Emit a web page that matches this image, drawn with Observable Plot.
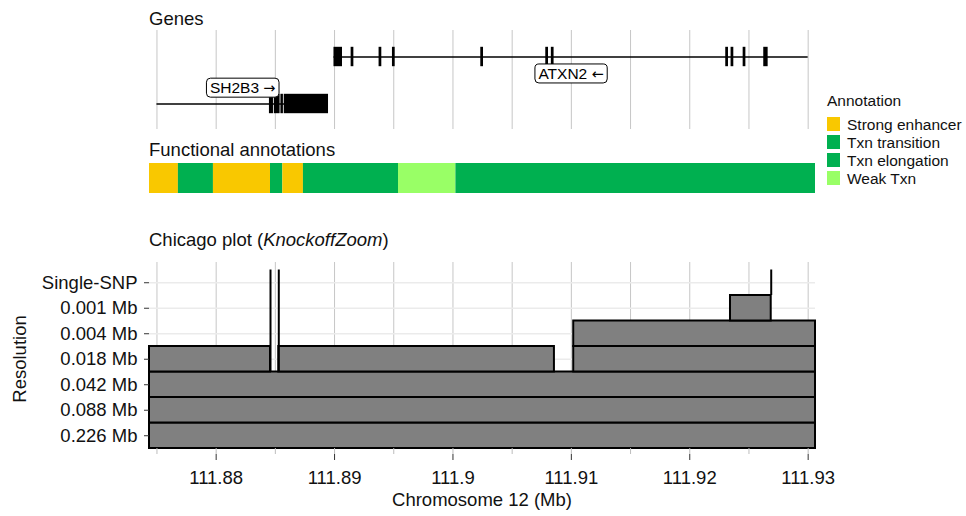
<!DOCTYPE html>
<html><head><meta charset="utf-8">
<script src="https://cdn.jsdelivr.net/npm/d3@7"></script>
<script src="https://cdn.jsdelivr.net/npm/@observablehq/plot@0.6"></script>
<style>
body{margin:0;background:#fff;}
#chart{position:relative;width:966px;height:516px;font-family:"Liberation Sans",Arial,Helvetica,sans-serif;color:#111;overflow:hidden;background:#fff}
.abs{position:absolute;white-space:nowrap;line-height:18px}
.t18{font-size:18.5px}
.t15{font-size:15.5px}
.panel{position:absolute;left:0}
</style></head><body><div id="chart"></div>
<script>
// ---------- data ----------
const xDomain = [111.87437, 111.93062];
const gridTicks = [111.875, 111.88, 111.885, 111.89, 111.895, 111.9, 111.905, 111.91, 111.915, 111.92, 111.925, 111.93];
const majorTicks = [111.88, 111.89, 111.9, 111.91, 111.92, 111.93];
const majorTickLabels = ["111.88", "111.89", "111.9", "111.91", "111.92", "111.93"];

// genes (visible window)
const geneNames = ["ATXN2", "SH2B3"];
const geneStart = [111.88995, 111.875];
const geneEnd = [111.93, 111.88949];
const geneArrow = ["←", "→"];

// exons
const exonGene = ["SH2B3","SH2B3","SH2B3","SH2B3",
  "ATXN2","ATXN2","ATXN2","ATXN2","ATXN2","ATXN2","ATXN2","ATXN2","ATXN2","ATXN2","ATXN2"];
const exonStart = [111.88450, 111.88491, 111.88547, 111.88575,
  111.88995, 111.89140, 111.89376, 111.89489, 111.90235, 111.90784, 111.90831, 111.92304, 111.92349, 111.92451, 111.92625];
const exonEnd = [111.88484, 111.88540, 111.88568, 111.88949,
  111.89067, 111.89163, 111.89399, 111.89512, 111.90258, 111.90807, 111.90854, 111.92327, 111.92372, 111.92474, 111.92662];

// functional annotations
const annotTypes = ["Strong enhancer", "Txn transition", "Txn elongation", "Weak Txn"];
const annotColors = ["#f9c800", "#00b050", "#00b050", "#99ff66"];
const segStart = [111.87437, 111.87681, 111.87977, 111.88459, 111.88563, 111.88737, 111.89540, 111.90025];
const segEnd   = [111.87681, 111.87977, 111.88459, 111.88563, 111.88737, 111.89540, 111.90025, 111.93062];
const segType  = ["Strong enhancer", "Txn transition", "Strong enhancer", "Txn transition", "Strong enhancer", "Txn elongation", "Weak Txn", "Txn elongation"];

// Chicago plot
const resolutions = ["0.226 Mb", "0.088 Mb", "0.042 Mb", "0.018 Mb", "0.004 Mb", "0.001 Mb", "Single-SNP"];
const groupRes   = ["0.226 Mb", "0.088 Mb", "0.042 Mb", "0.018 Mb", "0.018 Mb", "0.018 Mb", "0.004 Mb", "0.001 Mb"];
const groupStart = [111.87437, 111.87437, 111.87437, 111.87437, 111.88529, 111.91020, 111.91020, 111.92344];
const groupEnd   = [111.93062, 111.93062, 111.93062, 111.88459, 111.90857, 111.93062, 111.93062, 111.92688];
const snpPos = [111.88459, 111.88529, 111.92688];
const snpLowest = ["0.018 Mb", "0.018 Mb", "Single-SNP"];

// ---------- build ----------
const FONT = '"Liberation Sans", Arial, Helvetica, sans-serif';
const chart = document.getElementById("chart");
const W = 966, ML = 149, MR = 151;

function addDiv(html, cls, style) {
  const d = document.createElement("div");
  d.className = "abs " + cls;
  d.innerHTML = html;
  Object.assign(d.style, style);
  chart.appendChild(d);
  return d;
}

const genes = geneNames.map((n, i) => ({name: n, start: geneStart[i], end: geneEnd[i], arrow: geneArrow[i]}));
const exons = exonGene.map((g, i) => ({gene: g, start: exonStart[i], end: exonEnd[i]}));
const segs = segType.map((t, i) => ({type: t, start: segStart[i], end: segEnd[i]}));
const groups = groupRes.map((r, i) => ({res: r, start: groupStart[i], end: groupEnd[i]}));
const snps = snpPos.map((p, i) => ({pos: p, lowest: snpLowest[i]}));
const ri = r => resolutions.indexOf(r);
const mid = d => (d.start + d.end) / 2;

// Genes panel
const genesSvg = Plot.plot({
  width: W, height: 99, marginLeft: ML, marginRight: MR, marginTop: 0, marginBottom: 0,
  style: {background: "transparent", fontFamily: FONT, fontSize: "15.5px", color: "#111", overflow: "visible"},
  x: {domain: xDomain, axis: null},
  y: {type: "band", domain: geneNames, paddingInner: 0, paddingOuter: 0.05, axis: null},
  marks: [
    Plot.ruleX(gridTicks, {stroke: "#c6c6c6", strokeWidth: 1}),
    Plot.ruleY(genes, {y: "name", x1: "start", x2: "end", stroke: "#000", strokeWidth: 1.3}),
    Plot.barX(exons, {y: "gene", x1: "start", x2: "end", fill: "#000", insetTop: 13.8, insetBottom: 13.8}),
    Plot.text(genes.filter(d => d.name === "ATXN2"), {x: mid, y: "name", text: "name", dy: 16.8, fill: "#000", fontSize: 15.5}),
    Plot.text(genes.filter(d => d.name === "SH2B3"), {x: mid, y: "name", text: "name", dy: -16, fill: "#000", fontSize: 15.5})
  ]
});
genesSvg.classList.add("panel");
genesSvg.style.top = "30px";
chart.appendChild(genesSvg);
// label arrows + boxes
d3.select(genesSvg).selectAll('g[aria-label="text"] text').each(function () {
  const name = this.textContent;
  const g = genes.find(d => d.name === name);
  this.textContent = name + " ";
  const ts = document.createElementNS("http://www.w3.org/2000/svg", "tspan");
  ts.setAttribute("font-family", '"DejaVu Sans", sans-serif');
  ts.setAttribute("font-size", "14.5");
  ts.textContent = g ? g.arrow : "";
  this.appendChild(ts);
  const bb = this.getBBox();
  const r = document.createElementNS("http://www.w3.org/2000/svg", "rect");
  r.setAttribute("x", bb.x - 3.5);
  r.setAttribute("y", bb.y - 0.8);
  r.setAttribute("width", bb.width + 7);
  r.setAttribute("height", bb.height + 2);
  r.setAttribute("rx", 4);
  r.setAttribute("fill", "#fff");
  r.setAttribute("stroke", "#000");
  r.setAttribute("stroke-width", 1);
  const tr = this.getAttribute("transform");
  if (tr) r.setAttribute("transform", tr);
  this.parentNode.insertBefore(r, this);
});

// Annotation panel
const annotSvg = Plot.plot({
  width: W, height: 30, marginLeft: ML, marginRight: MR, marginTop: 0, marginBottom: 0,
  style: {background: "transparent", overflow: "visible"},
  x: {domain: xDomain, axis: null},
  color: {domain: annotTypes, range: annotColors},
  marks: [
    Plot.rect(segs, {x1: "start", x2: "end", fill: "type"})
  ]
});
annotSvg.classList.add("panel");
annotSvg.style.top = "163px";
chart.appendChild(annotSvg);

// Chicago panel
const chiSvg = Plot.plot({
  width: W, height: 254, marginLeft: ML, marginRight: MR, marginTop: 0, marginBottom: 68,
  style: {background: "transparent", fontFamily: FONT, fontSize: "18.5px", color: "#111", overflow: "visible"},
  x: {domain: xDomain, axis: null},
  y: {domain: [-0.5, 6.794], axis: null},
  marks: [
    Plot.ruleX(gridTicks, {stroke: "#c6c6c6", strokeWidth: 1}),
    Plot.ruleY(d3.range(resolutions.length), {stroke: "#ebebeb", strokeWidth: 1.5}),
    Plot.rect(groups, {x1: "start", x2: "end", y1: d => ri(d.res) - 0.5, y2: d => ri(d.res) + 0.5, fill: "#808080", stroke: "#000", strokeWidth: 2}),
    Plot.ruleX(snps, {x: "pos", y1: d => ri(d.lowest) - 0.5, y2: resolutions.length - 0.5, stroke: "#000", strokeWidth: 2}),
    Plot.axisY({ticks: d3.range(resolutions.length), tickFormat: i => resolutions[i], tickSize: 5, tickPadding: 7, stroke: "#333", fill: "#111", fontSize: 18.5, label: null}),
    Plot.axisX({ticks: gridTicks, tickSize: 6, tickFormat: () => "", stroke: "#bdbdbd", label: null}),
    Plot.axisX({ticks: majorTicks, tickSize: 6, dy: 6, tickPadding: 10, tickFormat: d => majorTickLabels[majorTicks.indexOf(d)], stroke: "#333", fill: "#111", fontSize: 18.5, label: null})
  ]
});
chiSvg.classList.add("panel");
chiSvg.style.top = "262px";
chart.appendChild(chiSvg);

// Titles & labels (baseline = top + 15.4 for 18.5px)
addDiv("Genes", "t18", {left: "149px", top: "9.6px"});
addDiv("Functional annotations", "t18", {left: "149px", top: "140.6px"});
addDiv("Chicago plot (<i>KnockoffZoom</i>)", "t18", {left: "149px", top: "230.6px"});
addDiv("Chromosome 12 (Mb)", "t18", {left: "482px", top: "490.6px", transform: "translateX(-50%)"});
addDiv("Resolution", "t18", {left: "20px", top: "358.8px", transform: "translate(-50%,-50%) rotate(-90deg)"});

// Legend
addDiv("Annotation", "t15", {left: "827px", top: "92.3px"});
annotTypes.forEach((t, i) => {
  const top = 117 + i * 18;
  const sw = document.createElement("div");
  Object.assign(sw.style, {position: "absolute", left: "827px", top: top + "px", width: "13px", height: "14px", background: annotColors[i]});
  chart.appendChild(sw);
  addDiv(t, "t15", {left: "847px", top: (top - 1.4) + "px"});
});
</script></body></html>
